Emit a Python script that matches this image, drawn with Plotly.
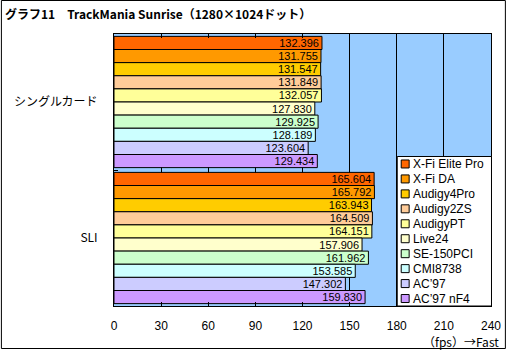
import plotly.graph_objects as go

categories = ["シングルカード", "SLI"]
series_names = ["X-Fi Elite Pro", "X-Fi DA", "Audigy4Pro", "Audigy2ZS", "AudigyPT",
                "Live24", "SE-150PCI", "CMI8738", "AC’97", "AC’97 nF4"]
series_colors = ["#FF6600", "#FF9900", "#FFCC00", "#FFCC99", "#FFFF99",
                 "#FFFFCC", "#CCFFCC", "#CCFFFF", "#CCCCFF", "#CC99FF"]
single_values = [132.396, 131.755, 131.547, 131.849, 132.057,
                 127.830, 129.925, 128.189, 123.604, 129.434]
sli_values = [165.604, 165.792, 163.943, 164.509, 164.151,
              157.906, 161.962, 153.585, 147.302, 159.830]
x_ticks = [0, 30, 60, 90, 120, 150, 180, 210, 240]
title_text = "グラフ11　TrackMania Sunrise（1280×1024ドット）"
unit_text = "（fps）→Fast"

W, H = 513, 353
L, R, T, B = 114, 494, 34, 306
FONT = "Noto Sans CJK JP"
LFONT = "Liberation Sans"


def px(xp):
    return (xp - L) / (R - L)


def py(yp):
    return (B - yp) / (B - T)


fig = go.Figure()
for i, name in enumerate(series_names):
    vals = [single_values[i], sli_values[i]]
    fig.add_trace(go.Bar(
        y=categories, x=vals, name=name, orientation="h",
        marker=dict(color=series_colors[i], line=dict(color="black", width=1)),
        texttemplate="%{x:.3f}", textposition="inside", insidetextanchor="end",
        constraintext="none", cliponaxis=False,
        textfont=dict(family=LFONT, size=11, color="black"),
        showlegend=False, hoverinfo="skip",
    ))

shapes = []
annotations = []
# outer frame
shapes.append(dict(type="rect", xref="paper", yref="paper",
                   x0=px(0.5), x1=px(508.5), y0=py(0.5), y1=py(348.5),
                   line=dict(color="black", width=1), fillcolor="rgba(0,0,0,0)", layer="above"))
# legend box
lx0, lx1, ly0, ly1 = 399.5, 494.5, 156.5, 306
shapes.append(dict(type="rect", xref="paper", yref="paper",
                   x0=px(lx0), x1=px(lx1), y0=py(ly0), y1=py(ly1),
                   line=dict(color="black", width=1), fillcolor="white", layer="above"))
step = (ly1 - ly0) / len(series_names)
for i, (name, col) in enumerate(zip(series_names, series_colors)):
    cy = ly0 + step * (i + 0.5)
    shapes.append(dict(type="rect", xref="paper", yref="paper",
                       x0=px(403.5), x1=px(411.5), y0=py(cy - 4), y1=py(cy + 4),
                       line=dict(color="black", width=1), fillcolor=col, layer="above"))
    annotations.append(dict(text=name, xref="paper", yref="paper", x=px(413), y=py(cy),
                            xanchor="left", yanchor="middle", showarrow=False,
                            font=dict(family=LFONT, size=12, color="black")))

annotations.append(dict(text=unit_text, xref="paper", yref="paper", x=px(504), y=py(341),
                        xanchor="right", yanchor="middle", showarrow=False,
                        font=dict(family=FONT, size=12, color="black")))

fig.update_layout(
    width=W, height=H,
    margin=dict(l=L, r=W - R, t=T, b=H - B, pad=0),
    paper_bgcolor="white", plot_bgcolor="#99CCFF",
    barmode="group", bargap=0.035, bargroupgap=0,
    title=dict(text=title_text, x=5 / W, xanchor="left", y=1 - 15 / H, yanchor="middle",
               xref="container", yref="container",
               font=dict(family=FONT, size=12, color="black", weight="bold")),
    xaxis=dict(range=[0, 240], tickvals=x_ticks, ticktext=[str(v) for v in x_ticks],
               showgrid=True, gridcolor="black", gridwidth=1, zeroline=False,
               showline=True, linecolor="black", linewidth=1, mirror="ticks",
               ticks="inside", ticklen=4, tickcolor="black", ticklabelstandoff=9,
               tickfont=dict(family=LFONT, size=12, color="black")),
    yaxis=dict(autorange=False, range=[1.5, -0.5], showgrid=False, zeroline=False,
               showline=True, linecolor="black", linewidth=1, mirror=True,
               ticks="inside", ticklen=4, tickcolor="black", tickson="boundaries",
               ticklabelstandoff=13,
               tickfont=dict(family=FONT, size=12, color="black")),
    shapes=shapes, annotations=annotations,
    font=dict(family=FONT, size=12, color="black"),
)

fig.write_html("out.html")
